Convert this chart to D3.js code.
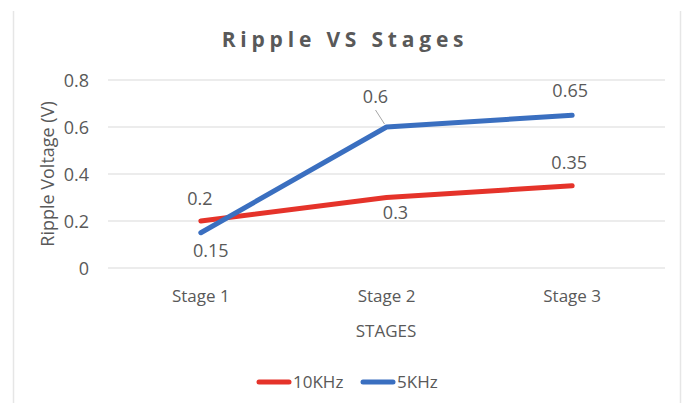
<!DOCTYPE html>
<html>
<head>
<meta charset="utf-8">
<script src="https://cdn.jsdelivr.net/npm/d3@7"></script>
<style>
  body { margin: 0; background: #fff; }
  text { font-family: "Open Sans", "Noto Sans", sans-serif; fill: #595959; }
</style>
</head>
<body>
<div id="chart"></div>
<script>
// chart data
var stages = ["Stage 1", "Stage 2", "Stage 3"];
var ripple10k = [0.2, 0.3, 0.35];
var ripple5k = [0.15, 0.6, 0.65];
var yTicks = [0, 0.2, 0.4, 0.6, 0.8];
var seriesNames = ["10KHz", "5KHz"];

var width = 683, height = 403;
var margin = {left: 108, right: 18, top: 80, bottom: 135};

var svg = d3.select("#chart").append("svg")
  .attr("width", width)
  .attr("height", height);

// faint frame edges
svg.append("line").attr("x1", 13.5).attr("x2", 13.5).attr("y1", 11).attr("y2", height)
  .attr("stroke", "#e6e6e6").attr("stroke-width", 1.5);
svg.append("line").attr("x1", 680.5).attr("x2", 680.5).attr("y1", 11).attr("y2", height)
  .attr("stroke", "#e6e6e6").attr("stroke-width", 1.5);

var x = d3.scaleBand().domain(stages).range([margin.left, width - margin.right]);
var y = d3.scaleLinear().domain([0, 0.8]).range([height - margin.bottom, margin.top]);

// gridlines
svg.append("g").selectAll("line").data(yTicks).join("line")
  .attr("x1", margin.left).attr("x2", width - margin.right)
  .attr("y1", function(d) { return y(d); }).attr("y2", function(d) { return y(d); })
  .attr("stroke", "#d9d9d9").attr("stroke-width", 1);

// y axis
var yAxis = svg.append("g")
  .attr("transform", "translate(" + (margin.left - 19) + ",0)")
  .call(d3.axisLeft(y).tickValues(yTicks).tickSize(0).tickFormat(function(d) { return d3.format("")(+d.toFixed(1)); }));
yAxis.select(".domain").remove();
yAxis.selectAll("text").attr("font-size", 18).attr("dy", "0.36em").attr("x", 0)
  .style("font-family", "'Open Sans', sans-serif").attr("fill", "#595959");

// x axis
var xAxis = svg.append("g")
  .attr("transform", "translate(0," + (height - margin.bottom) + ")")
  .call(d3.axisBottom(x).tickSize(0));
xAxis.select(".domain").remove();
xAxis.selectAll("text").attr("font-size", 17).attr("y", 34).attr("dy", "0")
  .style("font-family", "'Open Sans', sans-serif").attr("fill", "#595959");

// titles
svg.append("text").attr("x", 345).attr("y", 47).attr("text-anchor", "middle")
  .attr("font-size", 21).attr("font-weight", "bold").attr("letter-spacing", 4.8)
  .text("Ripple VS Stages");
svg.append("text").attr("x", 386).attr("y", 337).attr("text-anchor", "middle")
  .attr("font-size", 17).text("STAGES");
svg.append("text").attr("transform", "translate(54,174) rotate(-90)")
  .attr("text-anchor", "middle").attr("font-size", 18).text("Ripple Voltage (V)");

var colors = ["#e5332a", "#3a6fc0"];
var series = [ripple10k, ripple5k];

var line = d3.line()
  .x(function(d, i) { return x(stages[i]) + x.bandwidth() / 2; })
  .y(function(d) { return y(d); });

series.forEach(function(s, k) {
  svg.append("path").datum(s)
    .attr("d", line)
    .attr("fill", "none")
    .attr("stroke", colors[k])
    .attr("stroke-width", 5)
    .attr("stroke-linecap", "round")
    .attr("stroke-linejoin", "round");
});

// data labels: baseline offsets per point [dx, dy]
var labelOffsets = [
  [[-1, -16], [9, 21], [-3, -17]],
  [[10, 24], [-11, -24], [-2, -18]]
];
series.forEach(function(s, k) {
  svg.append("g").selectAll("text").data(s).join("text")
    .attr("x", function(d, i) { return x(stages[i]) + x.bandwidth() / 2 + labelOffsets[k][i][0]; })
    .attr("y", function(d, i) { return y(d) + labelOffsets[k][i][1]; })
    .attr("text-anchor", "middle")
    .attr("font-size", 18)
    .text(function(d) { return d; });
});

// leader line for 0.6 label
var cx2 = x(stages[1]) + x.bandwidth() / 2;
svg.append("line")
  .attr("x1", cx2 - 11).attr("y1", y(ripple5k[1]) - 17)
  .attr("x2", cx2 - 2).attr("y2", y(ripple5k[1]) - 3)
  .attr("stroke", "#a6a6a6").attr("stroke-width", 1);

// legend
var legend = svg.append("g").attr("transform", "translate(256,382)");
var legendX = [0, 104];
seriesNames.forEach(function(n, k) {
  var g = legend.append("g").attr("transform", "translate(" + legendX[k] + ",0)");
  g.append("line").attr("x1", 3).attr("x2", 33).attr("y1", 0).attr("y2", 0)
    .attr("stroke", colors[k]).attr("stroke-width", 5).attr("stroke-linecap", "round");
  g.append("text").attr("x", 37).attr("y", 0).attr("dy", "0.36em")
    .attr("font-size", 17).text(n);
});
</script>
</body>
</html>
